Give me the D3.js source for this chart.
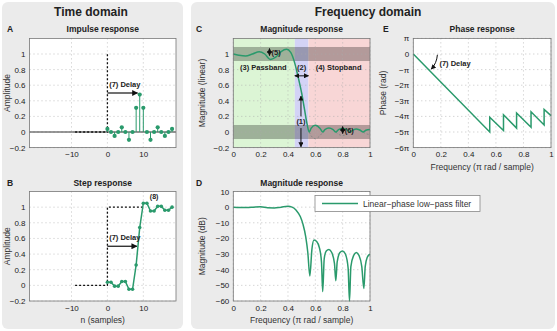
<!DOCTYPE html>
<html>
<head>
<meta charset="utf-8">
<script src="https://cdn.jsdelivr.net/npm/d3@7"></script>
<style>
  body { margin: 0; background: #fff; }
  svg { display: block; font-family: "Liberation Sans", Arial, sans-serif; }
  .tick text { font-size: 8px; fill: #222; }
</style>
</head>
<body>
<svg id="fig" width="557" height="331"></svg>
<script>
// ---- data ----
const samples = [0,1,2,3,4,5,6,7,8,9,10,11,12,13,14,15,16,17,18];
const impulse = [0.04,0,-0.05,0,0.06,0,-0.1,0,0.31,0.48,0.31,0,-0.1,0,0.06,0,-0.05,0,0.04];
const stepResp = [0.04,0.04,-0.01,-0.01,0.05,0.05,-0.05,-0.05,0.26,0.74,1.05,1.05,0.95,0.95,1.01,1.01,0.96,0.96,1.0];

// signed amplitude (solid = |A|, dashed = negative lobes)
const linFreq = [0,0.04,0.09,0.14,0.19,0.23,0.27,0.31,0.35,0.39,0.42,0.45,0.475,0.5,0.52,0.54,0.555,0.57,0.6,0.635,0.655,0.67,0.7,0.73,0.75,0.77,0.8,0.83,0.855,0.875,0.9,0.925,0.95,0.97,1.0];
const linAmp  = [1.0,0.985,0.975,1.0,1.03,1.0,0.93,0.96,1.03,1.06,1.02,0.88,0.7,0.5,0.3,0.1,0,-0.05,-0.085,-0.045,0,0.03,0.05,0.03,0,-0.03,-0.045,-0.03,0,0.025,0.04,0.025,0,-0.022,-0.032];

const dbFreq = [0,0.05,0.1,0.15,0.2,0.25,0.3,0.35,0.4,0.43,0.46,0.49,0.51,0.53,0.545,0.56,0.575,0.59,0.61,0.63,0.645,0.654,0.665,0.68,0.7,0.72,0.74,0.75,0.76,0.78,0.8,0.82,0.84,0.85,0.86,0.88,0.9,0.92,0.94,0.955,0.965,0.98,1.0];
const dbMag  = [0,-0.2,-0.3,0,0.2,-0.4,-0.5,0,0.5,0,-2,-6,-11,-19,-29,-44,-27,-21,-22,-26,-35,-54,-33,-28,-27,-29,-36,-47,-35,-29,-28,-30,-39,-60,-38,-31,-29,-31,-38,-52,-38,-32,-30];

const phaseFreq = [0,0.555,0.555,0.655,0.655,0.75,0.75,0.855,0.855,0.95,0.95,1.0];
const phasePi   = [0,-5,-4.05,-4.9,-3.9,-4.75,-3.78,-4.7,-3.7,-4.55,-3.55,-3.95];

const timeTicks = [-10,0,10];
const ampTicks = [-0.2,0,0.2,0.4,0.6,0.8,1];
const freqTicks = [0,0.2,0.4,0.6,0.8,1];
const dbTicks = [-60,-50,-40,-30,-20,-10,0,10];
const phaseTicks = [1,0,-1,-2,-3,-4,-5,-6];

const green = "#2a9a6c";
const svg = d3.select("#fig");

// panels
svg.append("rect").attr("x",2).attr("y",2).attr("width",181).attr("height",327).attr("rx",6).attr("fill","#ebebeb");
svg.append("rect").attr("x",191).attr("y",2).attr("width",364).attr("height",327).attr("rx",6).attr("fill","#ebebeb");
svg.append("text").attr("x",91).attr("y",16).attr("text-anchor","middle").attr("font-size",12).attr("font-weight","bold").attr("fill","#222").text("Time domain");
svg.append("text").attr("x",368).attr("y",16).attr("text-anchor","middle").attr("font-size",12).attr("font-weight","bold").attr("fill","#222").text("Frequency domain");

function makePlot(o){
  const g = svg.append("g");
  const x = d3.scaleLinear().domain(o.xd).range([o.x0,o.x1]);
  const y = d3.scaleLinear().domain(o.yd).range([o.y1,o.y0]);
  g.append("rect").attr("x",o.x0).attr("y",o.y0).attr("width",o.x1-o.x0).attr("height",o.y1-o.y0).attr("fill","#fff");
  const inner = g.append("g");
  if(o.bg) o.bg(inner,x,y);
  // grid
  inner.selectAll(".gx").data(o.xt).join("line").attr("x1",d=>x(d)).attr("x2",d=>x(d)).attr("y1",o.y0).attr("y2",o.y1)
    .attr("stroke","#aaa").attr("stroke-width",0.7).attr("stroke-dasharray","1,3");
  inner.selectAll(".gy").data(o.yt).join("line").attr("y1",d=>y(d)).attr("y2",d=>y(d)).attr("x1",o.x0).attr("x2",o.x1)
    .attr("stroke","#aaa").attr("stroke-width",0.7).attr("stroke-dasharray","1,3");
  const ax = g.append("g").attr("transform",`translate(0,${o.y1})`).call(d3.axisBottom(x).tickValues(o.xt).tickSize(0).tickPadding(4).tickFormat(o.xf||(d=>String(d).replace("-","\u2212"))));
  const ay = g.append("g").attr("transform",`translate(${o.x0},0)`).call(d3.axisLeft(y).tickValues(o.yt).tickSize(0).tickPadding(4).tickFormat(o.yf||(d=>String(d).replace("-","\u2212"))));
  ax.select(".domain").remove(); ay.select(".domain").remove();
  g.append("rect").attr("x",o.x0).attr("y",o.y0).attr("width",o.x1-o.x0).attr("height",o.y1-o.y0).attr("fill","none").attr("stroke","#777").attr("stroke-width",0.8);
  g.append("text").attr("x",o.lx).attr("y",o.y0-6).attr("font-size",8.5).attr("font-weight","bold").attr("fill","#222").text(o.letter);
  g.append("text").attr("x",(o.x0+o.x1)/2).attr("y",o.y0-6).attr("text-anchor","middle").attr("font-size",8.5).attr("font-weight","bold").attr("fill","#222").text(o.title);
  g.append("text").attr("transform",`translate(${o.ylx},${(o.y0+o.y1)/2}) rotate(-90)`).attr("text-anchor","middle").attr("font-size",8.5).attr("fill","#333").text(o.ylabel);
  if(o.xlabel) g.append("text").attr("x",(o.x0+o.x1)/2).attr("y",o.y1+22).attr("text-anchor","middle").attr("font-size",8.5).attr("fill","#333").text(o.xlabel);
  return {g:inner,x,y};
}

const defs = svg.append("defs");
function marker(id){
  defs.append("marker").attr("id",id).attr("viewBox","0 0 10 10").attr("refX",9).attr("refY",5)
    .attr("markerWidth",5).attr("markerHeight",5).attr("orient","auto-start-reverse")
    .append("path").attr("d","M0,0L10,5L0,10z").attr("fill","#111");
}
marker("arr");

// ---- A: impulse response ----
const A = makePlot({x0:29.5,x1:176,y0:38.4,y1:147.6,xd:[-21.7,19.1],yd:[-0.2,1.2],xt:timeTicks,yt:ampTicks,
  letter:"A",lx:7,title:"Impulse response",ylabel:"Amplitude",ylx:10});
A.g.append("line").attr("x1",A.x(-21.7)).attr("x2",A.x(19.1)).attr("y1",A.y(0)).attr("y2",A.y(0)).attr("stroke","#333").attr("stroke-width",1);
A.g.append("path").attr("d",d3.line()([[A.x(-9),A.y(0)],[A.x(0),A.y(0)],[A.x(0),A.y(1)]])).attr("fill","none").attr("stroke","#111").attr("stroke-width",1.3).attr("stroke-dasharray","2,2");
A.g.selectAll(".stem").data(samples).join("line").attr("x1",d=>A.x(d)).attr("x2",d=>A.x(d)).attr("y1",A.y(0)).attr("y2",(d,i)=>A.y(impulse[i])).attr("stroke",green).attr("stroke-width",1);
A.g.selectAll(".dot").data(samples).join("circle").attr("cx",d=>A.x(d)).attr("cy",(d,i)=>A.y(impulse[i])).attr("r",2.1).attr("fill",green);
A.g.append("line").attr("x1",A.x(0)).attr("x2",A.x(8.4)).attr("y1",A.y(0.5)).attr("y2",A.y(0.5)).attr("stroke","#111").attr("stroke-width",1.2).attr("marker-end","url(#arr)");
A.g.append("text").attr("x",A.x(0.5)).attr("y",A.y(0.58)).attr("font-size",7.5).attr("font-weight","bold").attr("fill","#222").text("(7) Delay");

// ---- B: step response ----
const B = makePlot({x0:29.5,x1:176,y0:191.5,y1:301,xd:[-21.7,19.1],yd:[-0.2,1.2],xt:timeTicks,yt:ampTicks,
  letter:"B",lx:7,title:"Step response",ylabel:"Amplitude",ylx:10,xlabel:"n (samples)"});
B.g.append("path").attr("d",d3.line()([[B.x(-9),B.y(0)],[B.x(0),B.y(0)],[B.x(0),B.y(1)],[B.x(10),B.y(1)]])).attr("fill","none").attr("stroke","#111").attr("stroke-width",1.3).attr("stroke-dasharray","2,2");
B.g.append("path").datum(samples).attr("d",d3.line().x(d=>B.x(d)).y((d,i)=>B.y(stepResp[i]))).attr("fill","none").attr("stroke",green).attr("stroke-width",1.5);
B.g.selectAll(".dot").data(samples).join("circle").attr("cx",d=>B.x(d)).attr("cy",(d,i)=>B.y(stepResp[i])).attr("r",1.8).attr("fill",green);
B.g.append("line").attr("x1",B.x(0)).attr("x2",B.x(8.2)).attr("y1",B.y(0.5)).attr("y2",B.y(0.5)).attr("stroke","#111").attr("stroke-width",1.2).attr("marker-end","url(#arr)");
B.g.append("text").attr("x",B.x(0.5)).attr("y",B.y(0.58)).attr("font-size",7.5).attr("font-weight","bold").attr("fill","#222").text("(7) Delay");
B.g.append("text").attr("x",B.x(13)).attr("y",B.y(1.1)).attr("text-anchor","middle").attr("font-size",7).attr("font-weight","bold").attr("fill","#222").text("(8)");

// ---- C: linear magnitude ----
const C = makePlot({x0:233.3,x1:370,y0:38.4,y1:147.6,xd:[0,1],yd:[-0.2,1.2],xt:freqTicks,yt:ampTicks,
  letter:"C",lx:196,title:"Magnitude response",ylabel:"Magnitude (linear)",ylx:205,
  bg:(g,x,y)=>{
    g.append("rect").attr("x",x(0)).attr("width",x(0.45)-x(0)).attr("y",y(1.2)).attr("height",y(-0.2)-y(1.2)).attr("fill","#dcf5d5");
    g.append("rect").attr("x",x(0.45)).attr("width",x(0.55)-x(0.45)).attr("y",y(1.2)).attr("height",y(-0.2)-y(1.2)).attr("fill","#d3d3f6");
    g.append("rect").attr("x",x(0.55)).attr("width",x(1)-x(0.55)).attr("y",y(1.2)).attr("height",y(-0.2)-y(1.2)).attr("fill","#f8d6d6");
    g.append("rect").attr("x",x(0)).attr("width",x(1)-x(0)).attr("y",y(1.09)).attr("height",y(0.91)-y(1.09)).attr("fill","#000").attr("opacity",0.28);
    g.append("rect").attr("x",x(0)).attr("width",x(1)-x(0)).attr("y",y(0.09)).attr("height",y(-0.09)-y(0.09)).attr("fill","#000").attr("opacity",0.28);
  }});
const linPts = linFreq.map((f,i)=>[f,linAmp[i]]);
C.g.append("path").datum(linPts).attr("d",d3.line().defined(d=>d[1]<=0).x(d=>C.x(d[0])).y(d=>C.y(d[1])).curve(d3.curveMonotoneX))
  .attr("fill","none").attr("stroke","#888").attr("stroke-width",1).attr("stroke-dasharray","2,2");
C.g.append("path").datum(linPts).attr("d",d3.line().x(d=>C.x(d[0])).y(d=>C.y(Math.abs(d[1]))).curve(d3.curveMonotoneX))
  .attr("fill","none").attr("stroke",green).attr("stroke-width",1.5);
function lab(P,fx,fy,t,anchor){ P.g.append("text").attr("x",P.x(fx)).attr("y",P.y(fy)).attr("text-anchor",anchor||"middle").attr("font-size",7.5).attr("font-weight","bold").attr("fill","#222").text(t); }
lab(C,0.22,0.8,"(3) Passband");
lab(C,0.5,0.8,"(2)");
lab(C,0.77,0.8,"(4) Stopband");
C.g.append("line").attr("x1",C.x(0.45)).attr("x2",C.x(0.55)).attr("y1",C.y(0.72)).attr("y2",C.y(0.72)).attr("stroke","#111").attr("stroke-width",1).attr("marker-start","url(#arr)").attr("marker-end","url(#arr)");
C.g.append("line").attr("x1",C.x(0.495)).attr("x2",C.x(0.495)).attr("y1",C.y(0.2)).attr("y2",C.y(0.46)).attr("stroke","#111").attr("stroke-width",1).attr("marker-end","url(#arr)");
C.g.append("line").attr("x1",C.x(0.495)).attr("x2",C.x(0.495)).attr("y1",C.y(0.05)).attr("y2",C.y(-0.19)).attr("stroke","#111").attr("stroke-width",1).attr("marker-end","url(#arr)");
lab(C,0.495,0.1,"(1)");
C.g.append("line").attr("x1",C.x(0.265)).attr("x2",C.x(0.265)).attr("y1",C.y(0.98)).attr("y2",C.y(1.07)).attr("stroke","#111").attr("stroke-width",1).attr("marker-start","url(#arr)").attr("marker-end","url(#arr)");
lab(C,0.28,0.99,"(5)","start");
C.g.append("line").attr("x1",C.x(0.8)).attr("x2",C.x(0.8)).attr("y1",C.y(-0.02)).attr("y2",C.y(0.07)).attr("stroke","#111").attr("stroke-width",1).attr("marker-start","url(#arr)").attr("marker-end","url(#arr)");
lab(C,0.815,-0.01,"(6)","start");

// ---- D: magnitude dB ----
const D = makePlot({x0:233.3,x1:370,y0:191.5,y1:301,xd:[0,1],yd:[-60,10],xt:freqTicks,yt:dbTicks,
  letter:"D",lx:196,title:"Magnitude response",ylabel:"Magnitude (dB)",ylx:205,xlabel:"Frequency (\u03c0 rad / sample)"});
D.g.append("path").datum(dbFreq).attr("d",d3.line().x(d=>D.x(d)).y((d,i)=>D.y(dbMag[i])).curve(d3.curveMonotoneX))
  .attr("fill","none").attr("stroke",green).attr("stroke-width",1.5);
// legend
const lg = svg.append("g");
lg.append("rect").attr("x",315).attr("y",195.5).attr("width",165).attr("height",16).attr("fill","#fff").attr("stroke","#888").attr("stroke-width",0.8);
lg.append("line").attr("x1",322).attr("x2",358).attr("y1",203.5).attr("y2",203.5).attr("stroke",green).attr("stroke-width",1.5);
lg.append("text").attr("x",363).attr("y",206.5).attr("font-size",8.5).attr("fill","#333").text("Linear\u2212phase low\u2212pass filter");

// ---- E: phase ----
const E = makePlot({x0:413.3,x1:551,y0:38.4,y1:147.6,xd:[0,1],yd:[-6,1],xt:freqTicks,yt:phaseTicks,
  letter:"E",lx:383,title:"Phase response",ylabel:"Phase (rad)",ylx:386,xlabel:"Frequency (\u03c0 rad / sample)",
  yf:d=> d===0?"0":d===1?"\u03c0":d===-1?"\u2212\u03c0":"\u2212"+(-d)+"\u03c0"});
E.g.append("path").datum(phaseFreq).attr("d",d3.line().x(d=>E.x(d)).y((d,i)=>E.y(phasePi[i])))
  .attr("fill","none").attr("stroke",green).attr("stroke-width",1.5);
E.g.append("path").attr("d",`M${E.x(0.175)},${E.y(-0.05)} Q${E.x(0.17)},${E.y(-0.6)} ${E.x(0.13)},${E.y(-0.97)}`)
  .attr("fill","none").attr("stroke","#111").attr("stroke-width",1).attr("marker-end","url(#arr)");
lab(E,0.19,-0.75,"(7) Delay","start");
</script>
</body>
</html>
